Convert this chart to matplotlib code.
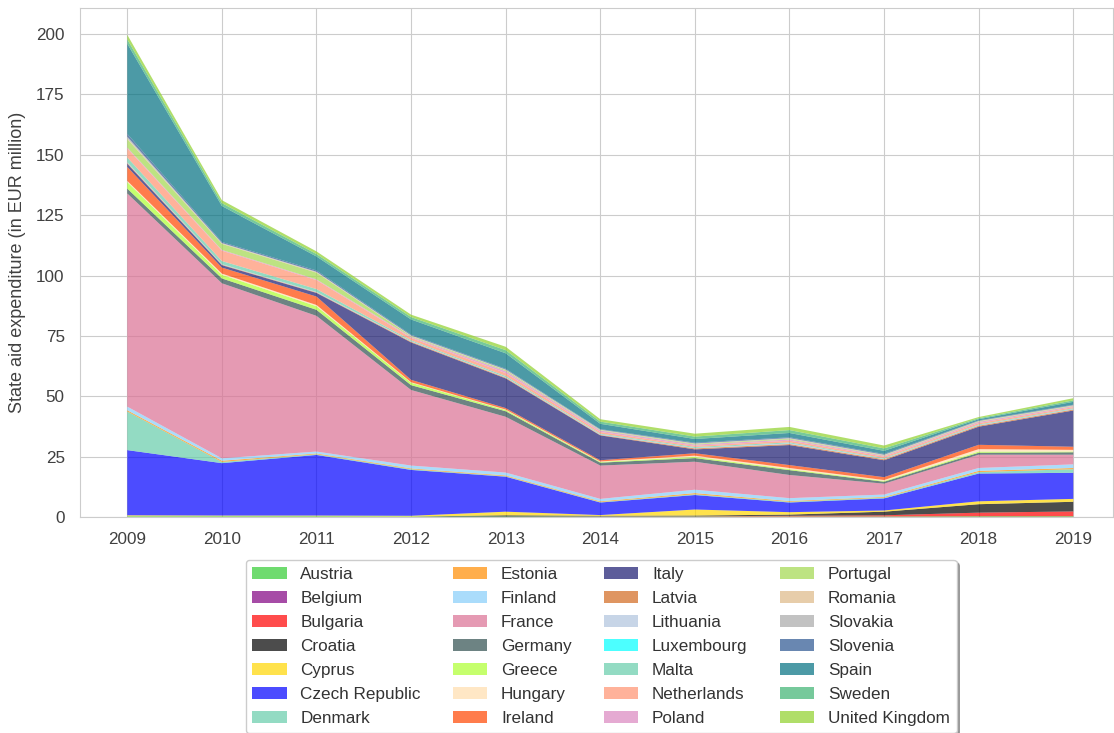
import matplotlib
matplotlib.use("Agg")
import matplotlib.pyplot as plt
import seaborn as sns

years = list(range(2009, 2020))

countries = ["Austria", "Belgium", "Bulgaria", "Croatia", "Cyprus", "Czech Republic",
             "Denmark", "Estonia", "Finland", "France", "Germany", "Greece", "Hungary",
             "Ireland", "Italy", "Latvia", "Lithuania", "Luxembourg", "Malta",
             "Netherlands", "Poland", "Portugal", "Romania", "Slovakia", "Slovenia",
             "Spain", "Sweden", "United Kingdom"]

austria     = [0.3, 0.3, 0.3, 0.2, 0.2, 0.2, 0.2, 0.2, 0.2, 0.3, 0.3]
belgium     = [0.0, 0.0, 0.0, 0.0, 0.0, 0.0, 0.0, 0.0, 0.0, 0.0, 0.0]
bulgaria    = [0.0, 0.0, 0.0, 0.0, 0.0, 0.1, 0.1, 0.3, 0.5, 1.5, 2.0]
croatia     = [0.0, 0.0, 0.0, 0.0, 0.5, 0.2, 0.3, 0.5, 1.5, 3.5, 4.0]
cyprus      = [0.4, 0.3, 0.3, 0.3, 1.5, 0.3, 2.5, 1.0, 0.5, 1.2, 1.2]
czech       = [27.0, 21.7, 25.1, 19.0, 14.5, 5.2, 6.0, 4.0, 5.0, 11.5, 10.8]
denmark     = [16.0, 0.5, 0.3, 0.3, 0.2, 0.2, 0.3, 0.3, 0.3, 0.6, 1.5]
estonia     = [0.5, 0.5, 0.3, 0.3, 0.3, 0.3, 0.5, 0.3, 0.3, 0.5, 0.5]
finland     = [1.5, 1.0, 0.8, 1.2, 1.2, 1.0, 1.4, 1.2, 1.0, 1.2, 1.5]
france      = [88.3, 72.5, 56.2, 31.3, 23.1, 13.8, 11.6, 9.6, 4.5, 5.5, 4.0]
germany     = [2.0, 2.0, 2.5, 2.0, 2.3, 1.2, 1.5, 2.0, 0.8, 0.8, 1.0]
greece      = [2.7, 1.5, 1.5, 1.0, 0.5, 0.3, 0.5, 0.4, 0.3, 0.5, 0.3]
hungary     = [0.5, 0.5, 0.5, 0.2, 0.2, 0.2, 0.5, 0.5, 0.4, 1.0, 0.7]
ireland     = [5.8, 2.5, 3.5, 1.0, 0.6, 0.5, 1.0, 1.2, 1.2, 1.8, 1.3]
italy       = [1.3, 1.0, 1.5, 15.5, 12.3, 10.3, 1.6, 8.3, 7.0, 7.5, 15.0]
latvia      = [0.3, 0.2, 0.2, 0.3, 0.3, 0.2, 0.4, 0.4, 0.4, 0.4, 0.4]
lithuania   = [0.3, 0.2, 0.2, 0.2, 0.2, 0.2, 0.2, 0.3, 0.2, 0.2, 0.2]
luxembourg  = [0.0, 0.0, 0.0, 0.0, 0.0, 0.0, 0.0, 0.0, 0.0, 0.0, 0.0]
malta       = [2.0, 1.3, 1.2, 0.4, 0.5, 0.3, 0.4, 0.4, 0.3, 0.3, 0.3]
netherlands = [3.7, 4.3, 3.7, 1.0, 1.2, 0.7, 0.5, 0.7, 0.6, 0.6, 0.5]
poland      = [0.4, 0.3, 0.3, 0.4, 0.8, 0.6, 0.5, 0.5, 0.4, 0.5, 0.4]
portugal    = [3.5, 2.5, 2.8, 0.3, 0.4, 0.2, 0.3, 0.3, 0.2, 0.2, 0.2]
romania     = [0.3, 0.2, 0.2, 0.1, 0.1, 0.1, 0.1, 0.1, 0.1, 0.1, 0.1]
slovakia    = [0.7, 0.2, 0.2, 0.2, 0.2, 0.1, 0.1, 0.2, 0.1, 0.1, 0.1]
slovenia    = [1.2, 0.4, 0.5, 0.3, 0.3, 0.2, 0.3, 0.3, 0.3, 0.2, 0.2]
spain       = [37.3, 14.9, 5.8, 6.3, 6.4, 2.2, 1.5, 1.8, 1.3, 0.5, 1.2]
sweden      = [1.8, 1.2, 1.0, 1.0, 1.3, 0.9, 1.0, 1.2, 1.0, 0.4, 0.6]
uk          = [1.9, 1.2, 1.1, 1.0, 1.4, 1.0, 1.2, 1.3, 1.2, 0.5, 0.9]

series = [austria, belgium, bulgaria, croatia, cyprus, czech, denmark, estonia,
          finland, france, germany, greece, hungary, ireland, italy, latvia,
          lithuania, luxembourg, malta, netherlands, poland, portugal, romania,
          slovakia, slovenia, spain, sweden, uk]

colors = ["limegreen", "purple", "red", "black", "gold", "blue", "mediumaquamarine",
          "darkorange", "lightskyblue", "palevioletred", "darkslategray", "greenyellow",
          "navajowhite", "orangered", "midnightblue", "chocolate", "lightsteelblue",
          "cyan", "mediumaquamarine", "#ff9270", "#db86c0", "#a2d84d", "burlywood",
          "darkgray", "#2a5590", "#007080", "mediumseagreen", "#8fd12a"]

sns.set_style("whitegrid")
plt.rcParams["font.family"] = ["Liberation Sans", "DejaVu Sans"]

fig = plt.figure(figsize=(11.14, 7.33), dpi=100)
ax = fig.add_axes([80 / 1114, 1 - 517 / 733, 1033 / 1114, 509 / 733])

polys = ax.stackplot(years, *series, labels=countries, colors=colors, alpha=0.7)
for p, c in zip(polys, colors):
    p.set_edgecolor(c)
    p.set_linewidth(1.0)

ax.set_xlim(2008.5, 2019.42)
ax.set_ylim(0, 210.8)
ax.set_xticks(years)
ax.set_yticks([0, 25, 50, 75, 100, 125, 150, 175, 200])
ax.tick_params(axis="both", labelsize=12.3, colors=".25", pad=11, length=0)
ax.set_ylabel("State aid expenditure (in EUR million)", fontsize=13, color=".25", labelpad=7)
for s in ax.spines.values():
    s.set_color(".8")

handles, labels = ax.get_legend_handles_labels()
for h in handles:
    h.set_edgecolor("none")
leg = fig.legend(handles, labels, loc="upper center",
                 bbox_to_anchor=(0.5395, 1 - 560 / 733), borderaxespad=0.0, ncol=4,
                 fontsize=12.3, shadow=True, frameon=True, labelspacing=0.53,
                 handlelength=2.0, handletextpad=0.8, columnspacing=1.9,
                 borderpad=0.4)
leg.get_frame().set_edgecolor(".8")
for t in leg.get_texts():
    t.set_color(".2")

fig.savefig("out.png", dpi=100)
